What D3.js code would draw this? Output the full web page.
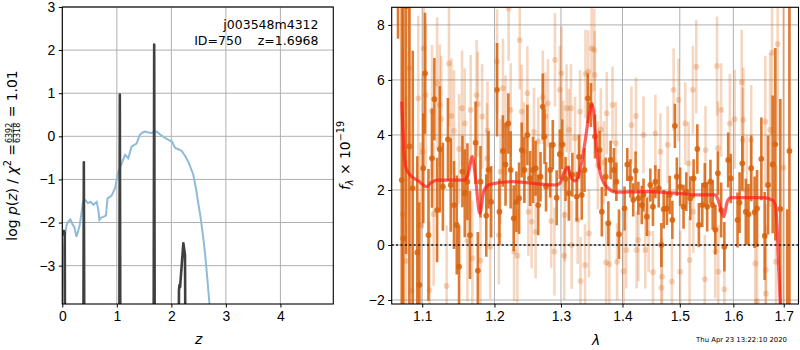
<!DOCTYPE html>
<html>
<head>
<meta charset="UTF-8">
<style>
  body { margin: 0; background: #fff; }
  svg { display: block; font-family: "DejaVu Sans", sans-serif; }
  .tick text { font-size: 13.9px; fill: #000; }
  .tick line, .domain { stroke: #000; stroke-width: 1px; }
</style>
</head>
<body>
<svg width="800" height="350"></svg>
<script src="https://d3js.org/d3.v7.min.js"></script>
<script>

// ---- left panel: p(z) ----
const pzZ   = [0.0, 0.01, 0.035, 0.045, 0.055, 0.38, 0.395, 0.41, 1.04, 1.055, 1.07,
               1.67, 1.685, 1.70, 2.12, 2.14, 2.15, 2.16, 2.22, 2.25, 2.27, 2.6, 3.2];
const pzLog = [-2.3, -2.2, -2.2, -2.25, -8, -8, -0.6, -8, -8, 0.97, -8,
               -8, 2.13, -8, -8, -3.55, -3.45, -3.5, -2.48, -2.75, -8, -9, -10];

const chiZ = [0.0, 0.02, 0.05, 0.08, 0.11, 0.15, 0.19, 0.22, 0.26, 0.29, 0.32, 0.35, 0.38, 0.42,
              0.47, 0.52, 0.57, 0.63, 0.66, 0.68, 0.72, 0.75, 0.80, 0.83, 0.88, 0.91, 0.97, 1.01,
              1.05, 1.10, 1.15, 1.21, 1.27, 1.36, 1.42, 1.47, 1.52, 1.58, 1.64, 1.68, 1.73, 1.79,
              1.85, 1.93, 2.01, 2.07, 2.13, 2.19, 2.25, 2.31, 2.36, 2.40, 2.45, 2.50, 2.53, 2.58,
              2.62, 2.66, 2.70, 2.72];
const chiVal = [-4.5, -2.75, -2.3, -2.05, -1.98, -1.93, -2.05, -2.1, -2.33, -2.2, -2.05, -1.8, -1.52, -1.48,
                -1.55, -1.52, -1.59, -1.52, -1.7, -1.94, -1.88, -1.87, -1.84, -1.44, -1.40, -1.36, -1.2, -0.9,
                -0.75, -0.6, -0.43, -0.51, -0.24, -0.17, 0.03, 0.09, 0.11, 0.09, 0.08, 0.10, 0.11, 0.05,
                -0.01, -0.07, -0.12, -0.27, -0.30, -0.34, -0.45, -0.59, -0.75, -0.88, -1.2, -1.6, -1.83, -2.3,
                -2.75, -3.3, -3.9, -4.2];

const zTicks = [0, 1, 2, 3, 4];
const pTicks = [-3, -2, -1, 0, 1, 2, 3];

// ---- right panel: spectrum ----
const darkLam = [1.0684, 1.0732, 1.0753, 1.0788, 1.0831, 1.0875, 1.0935, 1.0961,
  1.1014, 1.1037, 1.1083, 1.1130, 1.1162, 1.1199, 1.1235, 1.1277, 1.1346, 1.1384, 1.1429, 1.1467,
  1.1499, 1.1546, 1.1578, 1.1615, 1.1651, 1.1730, 1.1762, 1.1799, 1.1882, 1.1914, 1.1952,
  1.2037, 1.2072, 1.2122, 1.2161, 1.2202, 1.2236, 1.2281, 1.2321, 1.2361, 1.2400, 1.2440, 1.2485,
  1.2526, 1.2570, 1.2609, 1.2649, 1.2684, 1.2719, 1.2745, 1.2769, 1.2833, 1.2873, 1.2933, 1.2982,
  1.3019, 1.3072, 1.3125, 1.3180, 1.3249, 1.3286, 1.3330, 1.3373, 1.3426, 1.3479, 1.3544, 1.3619,
  1.3656, 1.3721, 1.3764, 1.3801, 1.3856, 1.3897, 1.3941,
  1.4035, 1.4081, 1.4134, 1.4182, 1.4223, 1.4270, 1.4329, 1.4359, 1.4417, 1.4477, 1.4523, 1.4565,
  1.4624, 1.4671, 1.4712, 1.4770, 1.4818, 1.4866, 1.4912, 1.4947,
  1.5007, 1.5068, 1.5118, 1.5191, 1.5252, 1.5320, 1.5349, 1.5412, 1.5459, 1.5503, 1.5564, 1.5606,
  1.5656, 1.5705, 1.5766, 1.5827, 1.5900, 1.5950,
  1.6080, 1.6120, 1.6173, 1.6241, 1.6293, 1.6347, 1.6414, 1.6462, 1.6548, 1.6614, 1.6683, 1.6775,
  1.6829, 1.6930, 1.7072, 1.7117];
const darkFlux = [10.5, 2.36, 0.24, 8.67, 3.58, 2.06, -0.27, -1.45,
  2.79, 6.24, 0.36, 3.15, 5.30, 1.27, 3.48, 2.12, 3.84, 2.18, 1.45, 0.73,
  -0.79, 2.67, 1.88, 2.30, 0.36, 3.72, -0.93, 2.30, 1.07, 2.73, 1.57,
  5.64, 1.21, 3.42, 2.93, 4.42, 2.73, 0.97, 1.57, 1.70, 3.45, 2.73, 4.0,
  2.42, 2.73, 2.79, 1.45, 2.48, 5.03, 3.94, 2.12, 2.73, 3.64, 1.72, 3.30,
  3.66, 2.40, 1.88, 2.55, 1.76, 3.21, 1.82, 2.73, 5.33, 5.09, 3.94, 3.45,
  1.21, 2.48, 0.79, 3.09, 2.73, 2.30, 0.39,
  1.33, 2.93, 2.42, 1.64, 2.70, 1.70, 1.45, 1.82, 1.03, 2.18, 1.39, 2.30,
  2.06, 0.0, 1.30, 1.33, 1.82, 0.91, 4.33, 2.48,
  2.12, 1.39, 1.94, 1.70, 2.42, 3.49, 0.73, 1.45, 2.18, 1.39, 2.30, 1.45,
  0.55, 2.61, 1.27, -0.06, 3.09, 2.42,
  0.91, 1.54, 2.97, 1.21, 1.12, 2.79, 1.19, 1.33, 3.13, 0.33, 2.18, 2.93,
  3.66, 1.31, -2.6, 3.42];
const darkErr = [3.0, 8, 9, 9, 7, 5, 3.5, 3,
  2.0, 2.2, 2.4, 1.8, 1.5, 1.9, 2.3, 1.6, 1.5, 1.7, 1.6, 1.8,
  1.5, 1.3, 1.6, 1.4, 1.6, 1.5, 1.4, 1.3, 1.5, 1.4, 1.3,
  1.7, 1.2, 1.3, 1.5, 1.1, 1.4, 1.2, 1.1, 1.3, 1.0, 1.2, 1.1,
  1.0, 1.2, 1.0, 1.1, 0.9, 1.2, 1.0, 0.9, 1.0, 0.9, 1.0, 0.9,
  0.9, 0.8, 1.0, 0.8, 0.9, 0.8, 0.9, 0.8, 0.9, 0.8, 0.8, 0.7,
  0.9, 0.7, 0.8, 0.7, 0.8, 0.7, 0.9,
  0.8, 0.6, 0.7, 0.6, 0.7, 0.6, 0.7, 0.6, 0.7, 0.6, 0.7, 0.6,
  0.7, 0.8, 0.7, 0.6, 0.7, 0.7, 0.8, 0.7,
  0.7, 0.8, 0.7, 0.8, 0.7, 0.9, 0.8, 0.8, 0.8, 0.9, 0.8, 0.9,
  0.9, 0.8, 1.0, 0.9, 1.0, 0.9,
  1.0, 1.1, 1.0, 1.2, 1.1, 1.2, 1.3, 1.4, 1.5, 1.6, 1.8, 2.5,
  3.5, 4.0, 3.9, 9];

const lightLam = [1.0745, 1.0788, 1.0831, 1.0862, 1.0948, 1.0979,
  1.1006, 1.1020, 1.1048, 1.1097, 1.1130, 1.1152, 1.1199, 1.1235, 1.1255, 1.1328, 1.1360, 1.1393,
  1.1429, 1.1499, 1.1540, 1.1578, 1.1615, 1.1661, 1.1684, 1.1744, 1.1762, 1.1799, 1.1823, 1.1892,
  1.1900, 1.1938,
  1.2037, 1.2063, 1.2086, 1.2122, 1.2161, 1.2206, 1.2236, 1.2287, 1.2336, 1.2370, 1.2400, 1.2436,
  1.2485, 1.2500, 1.2549, 1.2585, 1.2609, 1.2649, 1.2719, 1.2758, 1.2798, 1.2848, 1.2898, 1.2907,
  1.2982,
  1.3008, 1.3035, 1.3051, 1.3061, 1.3088, 1.3125, 1.3157, 1.3168, 1.3222, 1.3265, 1.3302, 1.3310,
  1.3383, 1.3390, 1.3436, 1.3446, 1.3489, 1.3532, 1.3540, 1.3590, 1.3640, 1.3690, 1.3727, 1.3737,
  1.3780, 1.3833, 1.3888, 1.3909,
  1.4018, 1.4064, 1.4152, 1.4230, 1.4240, 1.4270, 1.4359, 1.4389, 1.4447, 1.4523, 1.4565, 1.4654,
  1.4671, 1.4682, 1.4783, 1.4859, 1.4889, 1.4977,
  1.5007, 1.5099, 1.5160, 1.5178, 1.5239, 1.5245, 1.5301, 1.5459, 1.5472, 1.5656, 1.5687, 1.5705,
  1.5712, 1.5766, 1.5827, 1.5932,
  1.6026, 1.6161, 1.6181, 1.6193, 1.6261, 1.6347, 1.6428, 1.6462, 1.6628, 1.6635, 1.6640, 1.6723,
  1.6763, 1.6843, 1.6876, 1.6996];
const lightFlux = [1.12, -0.58, 6.42, -1.67, 5.33, 0.73,
  3.39, 7.15, 5.45, -1.64, 4.87, 1.12, 5.88, 5.09, 4.58, -1.49, 6.60, 4.69,
  4.15, 3.49, 4.97, 4.42, 0.15, 4.91, -0.48, 5.45, 5.12, -0.57, 4.67, 3.15,
  4.15, -0.06,
  6.67, 0.36, 2.67, 5.70, 4.36, 8.6, 4.91, -0.24, -0.39, 7.45, 4.85, 3.39,
  5.52, 1.21, 0.85, 4.12, 0.48, 3.76, 5.37, 4.67, 5.15, 0.87, -0.24, 6.73,
  5.64,
  6.24, 3.64, -0.39, 1.09, 4.97, 4.18, 4.97, 0.0, 3.88, 0.91, 4.85, -1.31,
  -0.73, 6.22, 6.30, 0.42, 7.15, 7.09, 6.18, 2.9, 4.2, 3.0, -0.63, 4.79,
  -0.70, 5.09, 3.70, -0.61,
  -0.95, -0.18, 4.36, 4.69, -0.18, 0.18, 4.0, -0.18, 0.42, -0.99, 4.06, 3.39,
  -1.55, -1.15, 3.64, -1.33, 5.64, 5.27,
  -0.97, 4.42, 2.97, -0.55, 5.64, 1.21, 6.48, -1.24, 3.45, -0.24, 6.51, 3.52,
  -0.97, 4.91, -1.61, 4.42,
  4.57, 5.92, 3.82, 4.55, 2.0, 3.82, -0.67, -2.04, 4.48, -0.91, -1.76, 4.18,
  6.99, -0.61, 7.30, 2.81];
const lightErr = [6, 6, 4, 4, 3, 3,
  2.8, 2.6, 2.6, 2.5, 2.4, 2.6, 2.4, 2.2, 2.3, 2.2, 2.3, 2.1,
  2.2, 2.0, 2.1, 2.0, 2.2, 2.0, 2.1, 2.0, 1.9, 2.0, 1.9, 2.0,
  1.8, 1.9,
  1.9, 1.8, 1.9, 1.8, 1.8, 1.9, 1.7, 1.8, 1.7, 1.8, 1.7, 1.8,
  1.7, 1.6, 1.7, 1.6, 1.7, 1.6, 1.7, 1.6, 1.6, 1.7, 1.6, 1.7,
  1.6,
  1.7, 1.6, 1.6, 1.7, 1.6, 1.5, 1.6, 1.6, 1.5, 1.6, 1.5, 1.6,
  1.5, 1.6, 1.5, 1.6, 1.6, 1.5, 1.6, 1.6, 1.5, 1.5, 1.5, 1.5,
  1.5, 1.4, 1.5, 1.4,
  1.5, 1.4, 1.4, 1.4, 1.4, 1.5, 1.4, 1.4, 1.4, 1.5, 1.4, 1.4,
  1.5, 1.4, 1.4, 1.5, 1.5, 1.5,
  1.5, 1.5, 1.5, 1.6, 1.6, 1.5, 1.7, 1.6, 1.6, 1.7, 1.8, 1.7,
  1.7, 1.7, 1.7, 1.8,
  1.8, 1.9, 1.9, 1.9, 2.0, 2.0, 2.1, 2.2, 2.4, 2.4, 2.5, 2.8,
  3.0, 3.5, 3.5, 6];

const modelLam = [1.0732, 1.0762, 1.0788, 1.0840, 1.0948, 1.1061, 1.1107, 1.1199, 1.1568, 1.1623,
  1.1684, 1.1730, 1.1789, 1.1845, 1.1914, 1.2007, 1.2261, 1.2907, 1.2982, 1.3035, 1.3104, 1.3168,
  1.3233, 1.3302, 1.3383, 1.3447, 1.3491, 1.3523, 1.3550, 1.3587, 1.3656, 1.3764, 1.3897, 1.4359,
  1.4947, 1.5334, 1.5647, 1.5708, 1.5771, 1.5818, 1.5881, 1.5954, 1.6562, 1.6763, 1.6829, 1.6863,
  1.6895, 1.6950];
const modelFlux = [5.21, 3.39, 2.79, 2.55, 2.33, 2.12, 2.24, 2.36, 2.36, 2.55,
  3.21, 2.42, 1.15, 1.94, 2.18, 2.24, 2.30, 2.18, 2.24, 2.55, 2.82, 2.42,
  2.33, 2.73, 3.76, 4.73, 5.09, 4.85, 4.0, 3.15, 2.42, 2.06, 1.92, 1.94,
  1.88, 1.82, 1.82, 1.64, 1.21, 1.03, 1.57, 1.72, 1.72, 1.64, 1.45, 0.73,
  -0.73, -3];

const lamTicks  = [1.1, 1.2, 1.3, 1.4, 1.5, 1.6, 1.7];
const fluxTicks = [-2, 0, 2, 4, 6, 8];

const specColor = "#d8620c";

let svg = d3.select("svg");

// ================= left panel =================
let L = {x0: 62.3, x1: 333.3, y0: 7, y1: 304};
let xL = d3.scaleLinear().domain([0, 4.97]).range([L.x0, L.x1]);
let yL = d3.scaleLinear().domain([-3.89, 3]).range([L.y1, L.y0]);

svg.append("clipPath").attr("id", "clipL")
  .append("rect").attr("x", L.x0).attr("y", L.y0)
  .attr("width", L.x1 - L.x0).attr("height", L.y1 - L.y0);

let gridL = svg.append("g").attr("stroke", "#b0b0b0").attr("stroke-width", 1);
zTicks.forEach(t => gridL.append("line").attr("x1", xL(t)).attr("x2", xL(t)).attr("y1", L.y0).attr("y2", L.y1));
pTicks.forEach(t => gridL.append("line").attr("x1", L.x0).attr("x2", L.x1).attr("y1", yL(t)).attr("y2", yL(t)));

let plotL = svg.append("g").attr("clip-path", "url(#clipL)");
plotL.append("path")
  .datum(chiZ.map((z, i) => [z, chiVal[i]]))
  .attr("fill", "none").attr("stroke", "#8fbbd9").attr("stroke-width", 2)
  .attr("d", d3.line().x(d => xL(d[0])).y(d => yL(d[1])));
plotL.append("path")
  .datum(pzZ.map((z, i) => [z, pzLog[i]]))
  .attr("fill", "none").attr("stroke", "#404040").attr("stroke-width", 2.6)
  .attr("stroke-linejoin", "round")
  .attr("d", d3.line().x(d => xL(d[0])).y(d => yL(d[1])));

svg.append("g").attr("transform", "translate(0," + L.y1 + ")")
  .call(d3.axisBottom(xL).tickValues(zTicks).tickSize(3.5).tickPadding(3.5).tickFormat(d3.format("d")))
  .call(g => g.select(".domain").remove());
svg.append("g").attr("transform", "translate(" + L.x0 + ",0)")
  .call(d3.axisLeft(yL).tickValues(pTicks).tickSize(3.5).tickPadding(3.5).tickFormat(d3.format("d")))
  .call(g => g.select(".domain").remove());
svg.append("rect").attr("x", L.x0).attr("y", L.y0).attr("width", L.x1 - L.x0).attr("height", L.y1 - L.y0)
  .attr("fill", "none").attr("stroke", "#000").attr("stroke-width", 1.1);

svg.append("text").attr("x", 318.5).attr("y", 29).attr("text-anchor", "end")
  .attr("font-size", 12.5).text("j003548m4312");
svg.append("text").attr("x", 318.5).attr("y", 44.5).attr("text-anchor", "end")
  .attr("font-size", 12.5).style("white-space", "pre").text("ID=750    z=1.6968");

svg.append("text").attr("x", xL(2.5)).attr("y", 344).attr("text-anchor", "middle")
  .attr("font-size", 13.9).attr("font-style", "italic").text("z");

// left y label with the fraction
let ylab = svg.append("g");
let p1 = ylab.append("text").attr("font-size", 13.9);
p1.append("tspan").text("log ");
p1.append("tspan").attr("font-style", "italic").text("p");
p1.append("tspan").text("(");
p1.append("tspan").attr("font-style", "italic").text("z");
p1.append("tspan").text(") / ");
p1.append("tspan").attr("font-style", "italic").text("χ");
p1.append("tspan").attr("font-size", 9.7).attr("dy", -5.5).text("2");
p1.append("tspan").attr("dy", 5.5).text(" = ");
let w1 = p1.node().getComputedTextLength();
let num = ylab.append("text").attr("font-size", 8).attr("y", -4.3).text("6392");
let den = ylab.append("text").attr("font-size", 8).attr("y", 3.8).text("6318");
let fw = Math.max(num.node().getComputedTextLength(), den.node().getComputedTextLength());
num.attr("x", w1 + 1);
den.attr("x", w1 + 1);
ylab.append("line").attr("x1", w1 + 1).attr("x2", w1 + 1 + fw).attr("y1", -3.3).attr("y2", -3.3)
  .attr("stroke", "#000").attr("stroke-width", 0.7);
let p2 = ylab.append("text").attr("font-size", 13.9).attr("x", w1 + fw + 2).style("white-space", "pre").text(" = 1.01");
let wAll = w1 + fw + 2 + p2.node().getComputedTextLength();
ylab.attr("transform", "translate(16.5," + ((L.y0 + L.y1) / 2 + wAll / 2) + ") rotate(-90)");

// ================= right panel =================
let R = {x0: 391.7, x1: 798.5, y0: 7.3, y1: 304};
let xR = d3.scaleLog().domain([1.0603, 1.7305]).range([R.x0, R.x1]);
let yR = d3.scaleLinear().domain([-2.145, 8.64]).range([R.y1, R.y0]);

svg.append("clipPath").attr("id", "clipR")
  .append("rect").attr("x", R.x0).attr("y", R.y0)
  .attr("width", R.x1 - R.x0).attr("height", R.y1 - R.y0);

let gridR = svg.append("g").attr("stroke", "#b0b0b0").attr("stroke-width", 1);
lamTicks.forEach(t => gridR.append("line").attr("x1", xR(t)).attr("x2", xR(t)).attr("y1", R.y0).attr("y2", R.y1));
fluxTicks.forEach(t => gridR.append("line").attr("x1", R.x0).attr("x2", R.x1).attr("y1", yR(t)).attr("y2", yR(t)));

let plotR = svg.append("g").attr("clip-path", "url(#clipR)");

function drawPoints(lam, flux, err, alpha) {
  let pts = lam.map((l, i) => ({l: l, f: flux[i], e: err[i]}));
  let g = plotR.append("g");
  g.selectAll("line").data(pts).enter().append("line")
    .attr("x1", d => xR(d.l)).attr("x2", d => xR(d.l))
    .attr("y1", d => yR(d.f - d.e)).attr("y2", d => yR(d.f + d.e))
    .attr("stroke", specColor).attr("stroke-width", 2.6).attr("stroke-opacity", alpha);
  g.selectAll("circle").data(pts).enter().append("circle")
    .attr("cx", d => xR(d.l)).attr("cy", d => yR(d.f)).attr("r", 2.9)
    .attr("fill", specColor).attr("fill-opacity", alpha);
}
drawPoints(lightLam, lightFlux, lightErr, 0.26);
drawPoints(darkLam, darkFlux, darkErr, 0.85);

plotR.append("line").attr("x1", R.x0).attr("x2", R.x1).attr("y1", yR(0)).attr("y2", yR(0))
  .attr("stroke", "#111").attr("stroke-width", 1.6).attr("stroke-dasharray", "2,2.4");

plotR.append("path")
  .datum(modelLam.map((l, i) => [l, modelFlux[i]]))
  .attr("fill", "none").attr("stroke", "#ff1a1a").attr("stroke-opacity", 0.7).attr("stroke-width", 3.2)
  .attr("d", d3.line().curve(d3.curveMonotoneX).x(d => xR(d[0])).y(d => yR(d[1])));

svg.append("g").attr("transform", "translate(0," + R.y1 + ")")
  .call(d3.axisBottom(xR).tickValues(lamTicks).tickSize(3.5).tickPadding(3.5).tickFormat(d3.format(".1f")))
  .call(g => g.select(".domain").remove());
svg.append("g").attr("transform", "translate(" + R.x0 + ",0)")
  .call(d3.axisLeft(yR).tickValues(fluxTicks).tickSize(3.5).tickPadding(3.5).tickFormat(d3.format("d")))
  .call(g => g.select(".domain").remove());
svg.append("rect").attr("x", R.x0).attr("y", R.y0).attr("width", R.x1 - R.x0).attr("height", R.y1 - R.y0)
  .attr("fill", "none").attr("stroke", "#000").attr("stroke-width", 1.1);

svg.append("text").attr("x", 596).attr("y", 345).attr("text-anchor", "middle")
  .attr("font-size", 13.9).attr("font-style", "italic").text("λ");

let ylabR = svg.append("text").attr("font-size", 13.9);
ylabR.append("tspan").attr("font-style", "italic").text("f");
ylabR.append("tspan").attr("font-style", "italic").attr("font-size", 9.7).attr("dy", 3).text("λ");
ylabR.append("tspan").attr("dy", -3).text(" × 10");
ylabR.append("tspan").attr("font-size", 9.7).attr("dy", -5.5).text("−19");
let wR = ylabR.node().getComputedTextLength();
ylabR.attr("transform", "translate(349.5," + (155.5 + wR / 2) + ") rotate(-90)");

// timestamp
svg.append("text").attr("x", 787).attr("y", 342).attr("text-anchor", "end")
  .attr("font-size", 6.9).text("Thu Apr 23 13:22:10 2020");

</script>
</body>
</html>
